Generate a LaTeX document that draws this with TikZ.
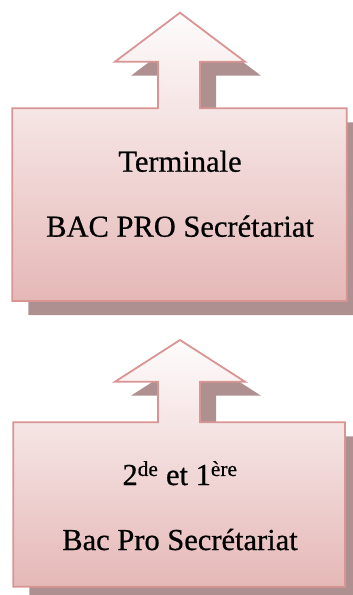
\documentclass[tikz,border=0pt]{standalone}
\usepackage{fontspec}
\setmainfont{Liberation Serif}[FakeBold=0.6]
\definecolor{boxline}{HTML}{D99594}
\definecolor{boxtop}{HTML}{FEFCFC}
\definecolor{boxbot}{HTML}{E5B8B7}
\definecolor{boxshade}{HTML}{AE9090}
\tikzset{
    arrowbox/.style={
        draw=boxline,line width=1.8pt,line join=miter,
        top color=boxtop,bottom color=boxbot,
        preaction={fill=boxshade,transform canvas={shift={(16pt,-14pt)}}}
    },
    boxtext/.style={anchor=base,font=\fontsize{30.5}{36}\selectfont},
}
\begin{document}
\begin{tikzpicture}[x=1pt,y=-1pt]
\useasboundingbox (0,0) rectangle (353,595);
% upper step
\path[arrowbox] (12.3,108.3) -- (158,108.3) -- (158,61.7) -- (115,61.7) -- (180,12.7)
    -- (245,61.7) -- (200,61.7) -- (200,108.3) -- (346.7,108.3) -- (346.7,301)
    -- (12.3,301) -- cycle;
\node[boxtext] (term) at (180,171.7) {Terminale};
\node[boxtext] (bactop) at (180,236.7) {BAC PRO Secrétariat};
% lower step
\path[arrowbox] (13.3,422.3) -- (158,422.3) -- (158,381.7) -- (115,381.7) -- (180,340)
    -- (245,381.7) -- (200,381.7) -- (200,422.3) -- (345,422.3) -- (345,586.7)
    -- (13.3,586.7) -- cycle;
\node[boxtext] (first) at (180,485) {2\textsuperscript{de} et 1\textsuperscript{ère}};
\node[boxtext] (bacbot) at (180,550) {Bac Pro Secrétariat};
\end{tikzpicture}
\end{document}
